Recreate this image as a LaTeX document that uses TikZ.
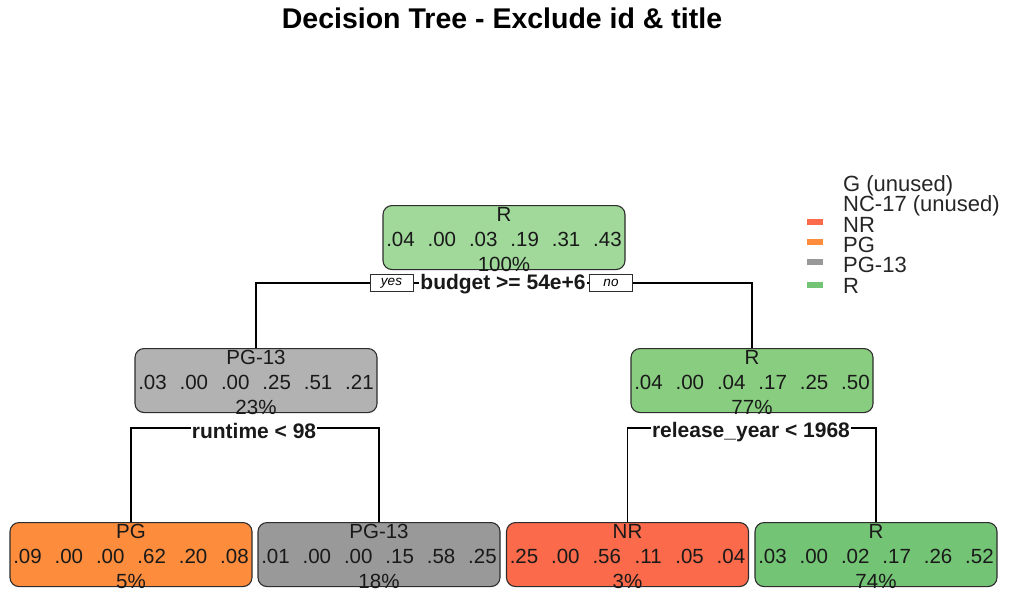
\documentclass[tikz,border=0pt]{standalone}
\usepackage{fontspec}
\setmainfont{Liberation Sans}
\definecolor{cRoot}{RGB}{161,217,155}
\definecolor{cGreenMid}{RGB}{137,206,128}
\definecolor{cGreen}{RGB}{116,196,118}
\definecolor{cGrayLt}{RGB}{178,178,178}
\definecolor{cGray}{RGB}{153,153,153}
\definecolor{cOrange}{RGB}{253,141,60}
\definecolor{cRed}{RGB}{251,106,74}
\definecolor{cEdge}{RGB}{45,45,45}
% six class probabilities, evenly spread across the box
\newcommand\probs[6]{\makebox[41.4pt]{#1}\makebox[41.4pt]{#2}\makebox[41.4pt]{#3}\makebox[41.4pt]{#4}\makebox[41.4pt]{#5}\makebox[41.4pt]{#6}}
% tree node: name, centre x, top y, fill, class, probabilities, share
\newcommand\treenode[7]{%
  \node[box, fill=#4] (#1) at (#2,#3) {};
  \node[txt] (#1-cls) at ([yshift=-16.5pt]#1.north) {#5};
  \node[txt] (#1-prb) at ([yshift=-41.5pt]#1.north) {#6};
  \node[txt] (#1-pct) at ([yshift=-66.5pt]#1.north) {#7};
}
\begin{document}
\begin{tikzpicture}[x=1pt,y=-1pt,
  box/.style={draw=cEdge, line width=1.1pt, rounded corners=9pt, minimum width=242pt, minimum height=64pt, anchor=north, inner sep=0pt},
  txt/.style={anchor=base, inner sep=0pt, font=\fontsize{20.5}{24}\selectfont, text=black!90},
  split/.style={anchor=base, inner sep=1pt, fill=white, font=\fontsize{21}{24}\selectfont\bfseries, text=black!90},
  yn/.style={draw=cEdge, line width=0.9pt, fill=white, minimum width=43pt, minimum height=17pt, inner sep=0pt, font=\fontsize{13.5}{15}\selectfont\itshape},
  leg/.style={anchor=base west, inner sep=0pt, font=\fontsize{22}{24}\selectfont, text=black!85},
  key/.style={minimum width=16pt, minimum height=6pt, inner sep=0pt, anchor=center},
  edge/.style={draw=black, line width=1.1pt}]
\useasboundingbox (0,0) rectangle (1010,590);

% title
\node[anchor=base, inner sep=0pt, font=\fontsize{28.5}{32}\selectfont\bfseries] (title) at (502,28) {Decision Tree - Exclude id \& title};

% split guides (drawn under the boxes and labels)
\coordinate (s1) at (503,283);
\coordinate (s2) at (255,428);
\coordinate (s3) at (752,428);

% nodes
\treenode{root}{504}{205}{cRoot}{R}{\probs{.04}{.00}{.03}{.19}{.31}{.43}}{100\%}
\treenode{lft}{256}{348}{cGrayLt}{PG-13}{\probs{.03}{.00}{.00}{.25}{.51}{.21}}{23\%}
\treenode{rgt}{752}{348}{cGreenMid}{R}{\probs{.04}{.00}{.04}{.17}{.25}{.50}}{77\%}
\treenode{lPG}{131}{522}{cOrange}{PG}{\probs{.09}{.00}{.00}{.62}{.20}{.08}}{5\%}
\treenode{lPGt}{379}{522}{cGray}{PG-13}{\probs{.01}{.00}{.00}{.15}{.58}{.25}}{18\%}
\treenode{lNR}{627.5}{522}{cRed}{NR}{\probs{.25}{.00}{.56}{.11}{.05}{.04}}{3\%}
\treenode{lR}{876}{522}{cGreen}{R}{\probs{.03}{.00}{.02}{.17}{.26}{.52}}{74\%}

% connectors
\draw[edge] (lPG.north) -- (lPG.north |- s2) -- (lPGt.north |- s2) -- (lPGt.north);
\draw[edge] (lNR.north) -- (lNR.north |- s3) -- (lR.north |- s3) -- (lR.north);
\draw[edge] (lft.north) -- (lft.north |- s1) -- (rgt.north |- s1) -- (rgt.north);

% split labels
\node[yn] (yes) at (391.5,283) {yes};
\node[yn] (no) at (611,283) {no};
\node[split] (sp1) at (503,289) {budget >= 54e+6};
\node[split] (sp2) at (254,438) {runtime < 98};
\node[split] (sp3) at (751,437) {release\_year < 1968};

% legend
\node[leg] (g0) at (843,191.5) {G (unused)};
\node[leg] (g1) at (843,211.8) {NC-17 (unused)};
\node[leg] (g2) at (843,232.1) {NR};
\node[leg] (g3) at (843,252.4) {PG};
\node[leg] (g4) at (843,272.7) {PG-13};
\node[leg] (g5) at (843,293) {R};
\node[key, fill=cRed] (k2) at (815,222) {};
\node[key, fill=cOrange] (k3) at (815,242) {};
\node[key, fill=cGray] (k4) at (815,262) {};
\node[key, fill=cGreen] (k5) at (815,285) {};
\end{tikzpicture}
\end{document}
